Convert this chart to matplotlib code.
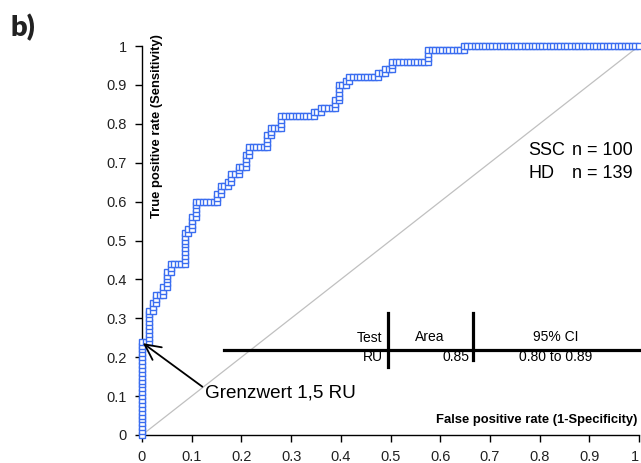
import numpy as np
import matplotlib
matplotlib.use("Agg")
import matplotlib.pyplot as plt

plt.rcParams["font.family"] = ["Liberation Sans", "DejaVu Sans"]

n_ssc = 100   # positives (SSC)
n_hd = 139    # negatives (HD)

# corners of the ROC step curve, as case counts (false positives, true positives)
# every case between two corners is one threshold / one marker
corner_fp = [0, 0, 2, 2, 3, 3, 4, 4, 6, 6, 7, 7, 8, 8, 12, 12, 13, 13, 14, 14,
             15, 15, 21, 21, 22, 22, 24, 24, 25, 25, 27, 27, 29, 29, 30, 30,
             35, 35, 36, 36, 39, 39, 48, 48, 50, 50, 54, 54, 55, 55, 57, 57,
             58, 58, 66, 66, 68, 68, 70, 70, 80, 80, 90, 90, 139]
corner_tp = [0, 24, 24, 32, 32, 34, 34, 36, 36, 38, 38, 42, 42, 44, 44, 52, 52,
             53, 53, 56, 56, 60, 60, 62, 62, 64, 64, 65, 65, 67, 67, 69, 69,
             72, 72, 74, 74, 77, 77, 79, 79, 82, 82, 83, 83, 84, 84, 86, 86,
             90, 90, 91, 91, 92, 92, 93, 93, 94, 94, 96, 96, 99, 99, 100, 100]

ticks = [0, 0.1, 0.2, 0.3, 0.4, 0.5, 0.6, 0.7, 0.8, 0.9, 1]
tick_labels = ["0", "0.1", "0.2", "0.3", "0.4", "0.5", "0.6", "0.7", "0.8", "0.9", "1"]

table_head = ["Test", "Area", "95% CI"]
table_row = ["RU", "0.85", "0.80 to 0.89"]

# one point per case along the step path
fp_pts, tp_pts = [corner_fp[0]], [corner_tp[0]]
for i in range(1, len(corner_fp)):
    dfp = corner_fp[i] - corner_fp[i-1]
    dtp = corner_tp[i] - corner_tp[i-1]
    for k in range(1, max(dfp, dtp) + 1):
        fp_pts.append(corner_fp[i-1] + (k if dfp else 0))
        tp_pts.append(corner_tp[i-1] + (k if dtp else 0))
fpr = np.array(fp_pts) / n_hd
tpr = np.array(tp_pts) / n_ssc

fig = plt.figure(figsize=(6.41, 4.63), dpi=100)
ax = fig.add_axes([142/641, 28/463, 497/641, 389/463])

ax.plot([0, 1], [0, 1], c="#c0c0c0", lw=0.9, zorder=1)
ax.plot(fpr, tpr, c="#333333", lw=0.8, zorder=2, clip_on=False)
ax.plot(fpr, tpr, ls="none", marker="s", ms=4.8, mfc="white", mec="#3a6df0",
        mew=1.0, zorder=3, clip_on=False)

ax.set_xlim(0, 1)
ax.set_ylim(0, 1)
ax.set_xticks(ticks)
ax.set_xticklabels(tick_labels)
ax.set_yticks(ticks)
ax.set_yticklabels(tick_labels)
ax.tick_params(direction="out", length=5, width=1, labelsize=10.5, pad=6,
               labelcolor="#222222")
ax.get_xticklabels()[-1].set_horizontalalignment("right")
for s in ["top", "right"]:
    ax.spines[s].set_visible(False)
ax.spines["left"].set_linewidth(1)
ax.spines["bottom"].set_linewidth(1)

ax.text(0.03, 0.794, "True positive rate (Sensitivity)", rotation=90,
        ha="center", va="center", fontsize=9.4, fontweight="bold")
ax.text(0.996, 0.038, "False positive rate (1-Specificity)", ha="right",
        va="center", fontsize=9.4, fontweight="bold")

ax.text(0.777, 0.731, "SSC", fontsize=13, va="center")
ax.text(0.865, 0.731, "n = 100", fontsize=13, va="center")
ax.text(0.777, 0.672, "HD", fontsize=13, va="center")
ax.text(0.865, 0.672, "n = 139", fontsize=13, va="center")

ax.annotate("Grenzwert 1,5 RU", xy=(0.002, 0.236), xytext=(0.127, 0.108),
            fontsize=13.6, ha="left", va="center",
            arrowprops=dict(arrowstyle="->", lw=1.3, color="black",
                            mutation_scale=28, shrinkA=0, shrinkB=0,
                            relpos=(0, 0.75)))

# small results table
ax.plot([0.165, 1.0], [0.2185, 0.2185], c="black", lw=2.3, clip_on=False)
ax.plot([0.494, 0.494], [0.175, 0.314], c="black", lw=2.3)
ax.plot([0.665, 0.665], [0.193, 0.314], c="black", lw=2.3)
ax.text(0.483, 0.249, table_head[0], ha="right", va="center", fontsize=10)
ax.text(0.578, 0.252, table_head[1], ha="center", va="center", fontsize=10)
ax.text(0.833, 0.252, table_head[2], ha="center", va="center", fontsize=10)
ax.text(0.484, 0.2, table_row[0], ha="right", va="center", fontsize=10)
ax.text(0.659, 0.2, table_row[1], ha="right", va="center", fontsize=10)
ax.text(0.833, 0.2, table_row[2], ha="center", va="center", fontsize=10)

fig.text(10/641, 1 - 28/463, "b)", fontsize=21, fontweight="heavy",
         family=["Lato", "DejaVu Sans"], va="center", ha="left", color="#222222")

fig.savefig("out.png", dpi=100)
